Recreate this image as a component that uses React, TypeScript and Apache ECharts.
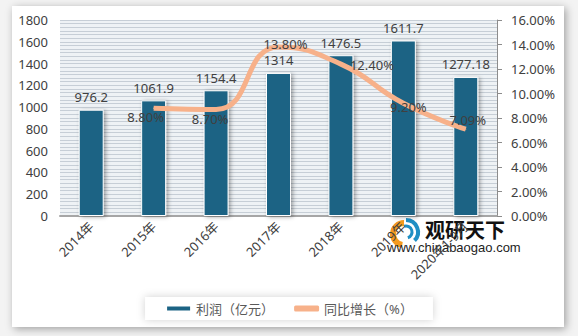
import React, { useEffect, useRef } from "react";
import * as echarts from "echarts";

const categories = ["2014年", "2015年", "2016年", "2017年", "2018年", "2019年", "2020年1-9月"];
const profit = [976.2, 1061.9, 1154.4, 1314, 1476.5, 1611.7, 1277.18];
const growth: (number | null)[] = [null, 8.8, 8.7, 13.8, 12.4, 9.2, 7.09];
const seriesNames = ["利润（亿元）", "同比增长（%）"];

const labelOffsets: [number, number][] = [
  [0, 0],
  [-8, 9],
  [-6, 10],
  [7, -3],
  [31, 1],
  [5, 4],
  [2, -9],
];

const FONT = "'Noto Sans', 'Noto Sans CJK SC', sans-serif";
const BAR = "#1b6384";
const LINE = "#f7b18a";

export default function App() {
  const ref = useRef<HTMLDivElement>(null);
  useEffect(() => {
    if (!ref.current) return;
    const chart = echarts.init(ref.current, undefined, { renderer: "svg" });
    chart.setOption({
      animation: false,
      backgroundColor: "#f3f3f3",
      textStyle: { fontFamily: FONT },
      graphic: [
        {
          type: "rect",
          z: -10,
          shape: { x: 12, y: 6, width: 552, height: 321 },
          style: {
            fill: "#ffffff",
            shadowBlur: 8,
            shadowColor: "rgba(0,0,0,0.35)",
            shadowOffsetX: 2,
            shadowOffsetY: 2,
          },
        },
        {
          type: "group",
          z: 100,
          children: [
            {
              type: "arc",
              shape: { cx: 404, cy: 234, r: 11, startAngle: Math.PI * 0.55, endAngle: Math.PI * 1.5 },
              style: { stroke: "#f39a1e", lineWidth: 6, fill: "none" },
            },
            {
              type: "arc",
              shape: { cx: 406, cy: 232, r: 12, startAngle: -Math.PI * 0.5, endAngle: Math.PI * 0.25 },
              style: { stroke: "#1f8fc4", lineWidth: 4, fill: "none" },
            },
            {
              type: "arc",
              shape: { cx: 406, cy: 232, r: 6, startAngle: -Math.PI * 0.6, endAngle: Math.PI * 0.4 },
              style: { stroke: "#1f8fc4", lineWidth: 3, fill: "none" },
            },
            {
              type: "text",
              x: 425,
              y: 219,
              style: {
                text: "观研天下",
                fontSize: 20,
                fontWeight: "bold",
                fill: "#111",
                fontFamily: "'Noto Sans CJK SC', sans-serif",
              },
            },
            {
              type: "text",
              x: 387,
              y: 241,
              style: {
                text: "www.chinabaogao.com",
                fontSize: 13,
                fill: "#222",
                fontFamily: "'Liberation Sans', Arial, sans-serif",
              },
            },
          ],
        },
      ],
      legend: {
        top: 297,
        left: "center",
        padding: [5, 20],
        itemGap: 20,
        backgroundColor: "#ffffff",
        shadowBlur: 8,
        shadowColor: "rgba(0,0,0,0.18)",
        itemWidth: 25,
        itemHeight: 6,
        textStyle: { fontSize: 13, color: "#595959", fontFamily: FONT },
        data: [
          { name: seriesNames[0], icon: "rect", itemStyle: { color: BAR } },
          { name: seriesNames[1], icon: "roundRect", itemStyle: { color: LINE } },
        ],
      },
      grid: {
        left: 60,
        right: 81,
        top: 20,
        bottom: 120,
        show: true,
        backgroundColor: "#eef2f5",
        borderWidth: 0,
      },
      xAxis: {
        type: "category",
        data: categories,
        axisLine: { lineStyle: { color: "#a6a6a6", width: 2 } },
        axisTick: { show: false },
        axisLabel: { rotate: 45, fontSize: 13, color: "#404040", margin: 8, interval: 0 },
      },
      yAxis: [
        {
          type: "value",
          min: 0,
          max: 1800,
          interval: 200,
          axisLine: { show: false },
          axisTick: { show: false },
          axisLabel: {
            fontSize: 13,
            color: "#404040",
            margin: 12,
            formatter: (v: number) => String(v),
          },
          splitLine: { lineStyle: { color: "#c6ced6", width: 1 } },
          minorTick: { show: false, splitNumber: 6 },
          minorSplitLine: { show: true, lineStyle: { color: "#c6ced6", width: 1 } },
        },
        {
          type: "value",
          min: 0,
          max: 16,
          interval: 2,
          position: "right",
          axisLine: { show: true, lineStyle: { color: "#8c8c8c" } },
          axisTick: { show: true, length: 5, lineStyle: { color: "#8c8c8c" } },
          axisLabel: {
            fontSize: 13,
            color: "#404040",
            margin: 14,
            formatter: (v: number) => v.toFixed(2) + "%",
          },
          splitLine: { show: false },
        },
      ],
      series: [
        {
          name: seriesNames[0],
          type: "bar",
          data: profit,
          barWidth: "40%",
          itemStyle: {
            color: BAR,
            borderColor: "#ffffff",
            borderWidth: 1,
            shadowBlur: 4,
            shadowColor: "rgba(0,0,0,0.35)",
            shadowOffsetX: 2,
            shadowOffsetY: 1,
          },
          label: {
            show: true,
            position: "top",
            distance: 6,
            fontSize: 13,
            color: "#404040",
          },
        },
        {
          name: seriesNames[1],
          type: "line",
          yAxisIndex: 1,
          smooth: 0.5,
          symbol: "circle",
          symbolSize: 1,
          z: 3,
          itemStyle: { color: LINE },
          lineStyle: { color: LINE, width: 5 },
          data: growth.map((v, i) => ({
            value: v,
            label: {
              show: v !== null,
              position: "inside",
              offset: labelOffsets[i],
              fontSize: 13,
              color: "#404040",
              formatter: (p: any) => Number(p.value).toFixed(2) + "%",
            },
          })),
        },
      ],
    });
    return () => chart.dispose();
  }, []);
  return (
    <div
      ref={ref}
      style={{ position: "fixed", left: 0, top: 0, width: 578, height: 336 }}
    />
  );
}
